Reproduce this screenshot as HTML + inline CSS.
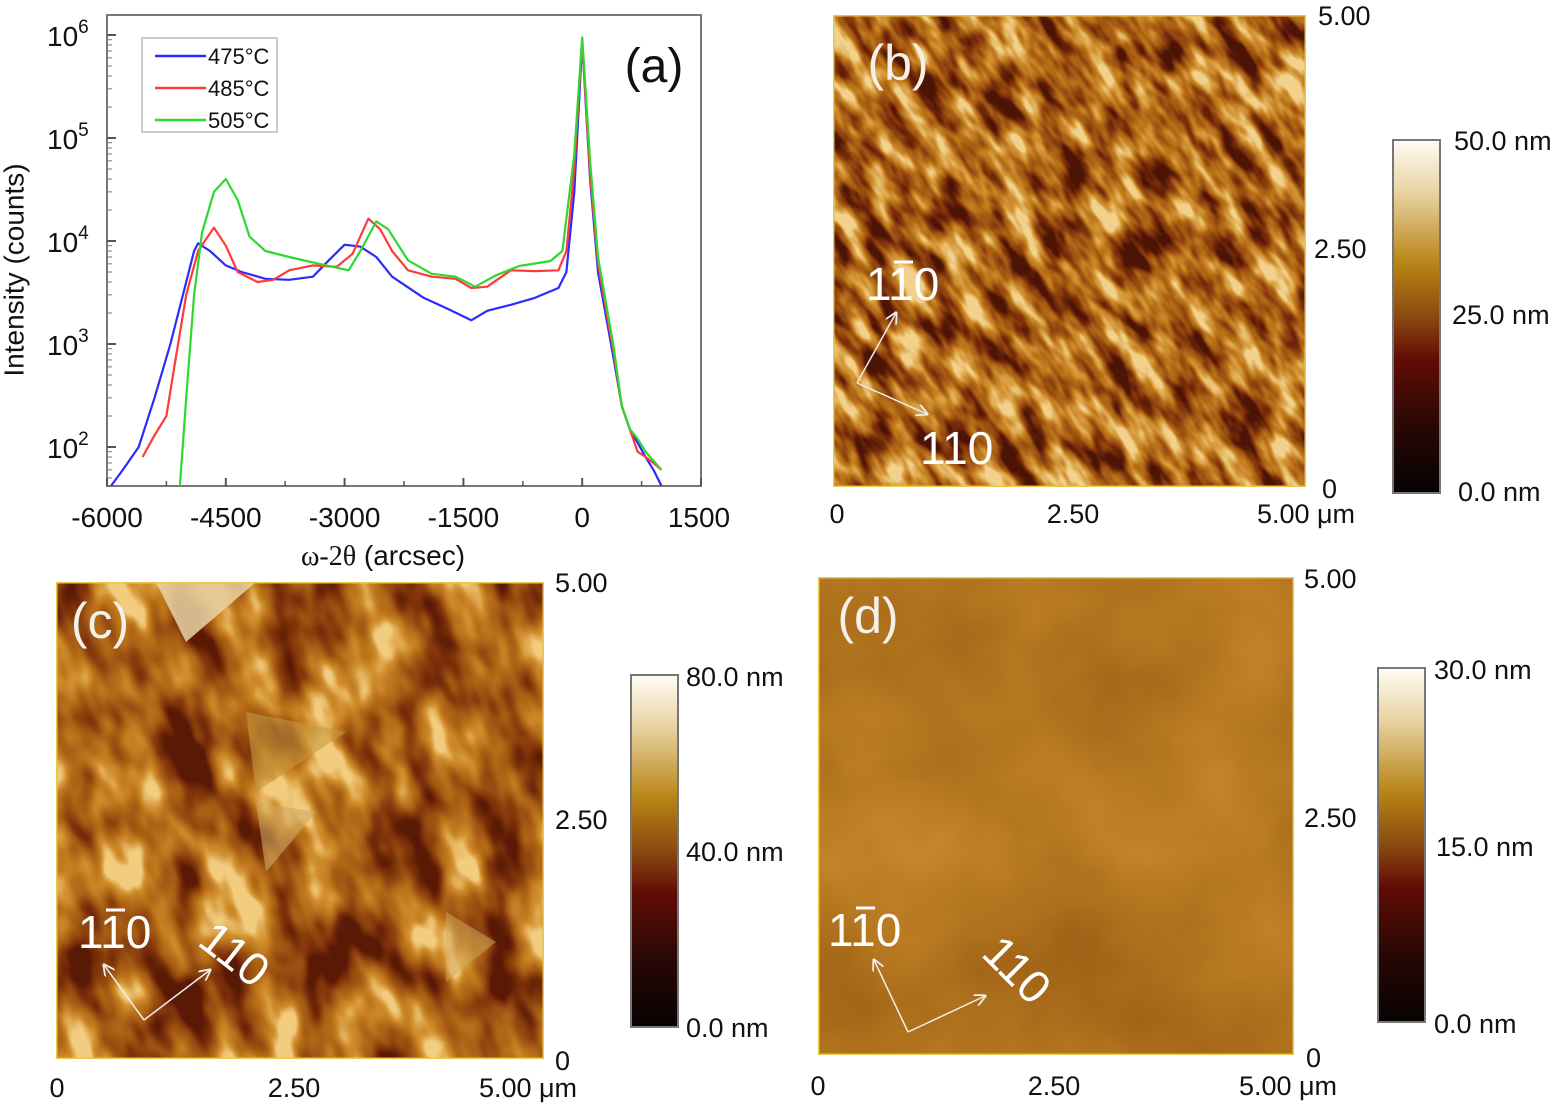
<!DOCTYPE html>
<html><head><meta charset="utf-8">
<style>
html,body{margin:0;padding:0;background:#fff;width:1558px;height:1107px;overflow:hidden;}
svg{display:block;font-family:"Liberation Sans",sans-serif;}
</style></head>
<body>
<svg id="fig" width="1558" height="1107" viewBox="0 0 1558 1107" xmlns="http://www.w3.org/2000/svg">
<defs>
  <linearGradient id="cbar" x1="0" y1="0" x2="0" y2="1">
    <stop offset="0" stop-color="#fffdf6"/>
    <stop offset="0.15" stop-color="#e8d2a0"/>
    <stop offset="0.35" stop-color="#b88416"/>
    <stop offset="0.5" stop-color="#8a4a10"/>
    <stop offset="0.62" stop-color="#620c06"/>
    <stop offset="0.8" stop-color="#2a0804"/>
    <stop offset="1" stop-color="#060303"/>
  </linearGradient>
  <filter id="afmB" x="0" y="0" width="1" height="1" color-interpolation-filters="sRGB">
    <feTurbulence type="fractalNoise" baseFrequency="0.05 0.02" numOctaves="3" seed="4"/>
    <feColorMatrix type="matrix" values="1 0 0 0 0 1 0 0 0 0 1 0 0 0 0 0 0 0 0 1"/>
    <feComponentTransfer>
      <feFuncR type="linear" slope="2.2" intercept="-0.6"/>
      <feFuncG type="linear" slope="2.2" intercept="-0.6"/>
      <feFuncB type="linear" slope="2.2" intercept="-0.6"/>
    </feComponentTransfer>
    <feComponentTransfer>
      <feFuncR type="table" tableValues="0.3 0.48 0.62 0.74 0.85 0.95"/>
      <feFuncG type="table" tableValues="0.08 0.18 0.33 0.46 0.62 0.82"/>
      <feFuncB type="table" tableValues="0.02 0.04 0.07 0.1 0.25 0.55"/>
    </feComponentTransfer>
  </filter>
  <filter id="afmC" x="0" y="0" width="1" height="1" color-interpolation-filters="sRGB">
    <feTurbulence type="fractalNoise" baseFrequency="0.022 0.012" numOctaves="3" seed="9"/>
    <feColorMatrix type="matrix" values="1 0 0 0 0 1 0 0 0 0 1 0 0 0 0 0 0 0 0 1"/>
    <feComponentTransfer>
      <feFuncR type="linear" slope="2.2" intercept="-0.6"/>
      <feFuncG type="linear" slope="2.2" intercept="-0.6"/>
      <feFuncB type="linear" slope="2.2" intercept="-0.6"/>
    </feComponentTransfer>
    <feComponentTransfer>
      <feFuncR type="table" tableValues="0.35 0.5 0.62 0.72 0.82 0.95"/>
      <feFuncG type="table" tableValues="0.1 0.2 0.33 0.44 0.56 0.8"/>
      <feFuncB type="table" tableValues="0.02 0.04 0.07 0.1 0.18 0.5"/>
    </feComponentTransfer>
  </filter>
  <filter id="afmD" x="0" y="0" width="1" height="1" color-interpolation-filters="sRGB">
    <feTurbulence type="fractalNoise" baseFrequency="0.006" numOctaves="4" seed="2"/>
    <feColorMatrix type="matrix" values="1 0 0 0 0 1 0 0 0 0 1 0 0 0 0 0 0 0 0 1"/>
    <feComponentTransfer>
      <feFuncR type="table" tableValues="0.6 0.65 0.7 0.75 0.8"/>
      <feFuncG type="table" tableValues="0.36 0.41 0.46 0.5 0.55"/>
      <feFuncB type="table" tableValues="0.08 0.1 0.12 0.15 0.2"/>
    </feComponentTransfer>
  </filter>
  <marker id="ah" markerWidth="8" markerHeight="8" refX="7" refY="4" orient="auto"><path d="M0,0 L8,4 L0,8" fill="none" stroke="#eee" stroke-width="1.2"/></marker>
</defs>

<!-- Panel (a) -->
<g id="panelA">
  <rect x="107" y="15" width="594" height="471" fill="#fff" stroke="#777" stroke-width="2"/>
  <g id="axes"></g>
  <g id="curves"></g>
  <text x="16" y="270" font-size="28" transform="rotate(-90 16 270)" text-anchor="middle" dominant-baseline="middle" fill="#111">Intensity (counts)</text>
  <text x="383" y="565" font-size="28" text-anchor="middle" fill="#111"><tspan font-family="Liberation Serif,serif">ω-2θ</tspan> (arcsec)</text>
  <text x="654" y="82" font-size="48" text-anchor="middle" fill="#111">(a)</text>
  <g>
    <rect x="142" y="38" width="135" height="94" fill="#fff" stroke="#bbb" stroke-width="1.5"/>
    <line x1="155" y1="56" x2="206" y2="56" stroke="#2b2bff" stroke-width="2.5"/>
    <text x="208" y="64" font-size="22" fill="#111">475°C</text>
    <line x1="155" y1="88" x2="206" y2="88" stroke="#ff3a3a" stroke-width="2.5"/>
    <text x="208" y="96" font-size="22" fill="#111">485°C</text>
    <line x1="155" y1="120" x2="206" y2="120" stroke="#2ed82e" stroke-width="2.5"/>
    <text x="208" y="128" font-size="22" fill="#111">505°C</text>
  </g>
</g>

<!-- Panel (b) -->
<g>
  <svg x="833" y="15" width="473" height="472" overflow="hidden">
    <rect x="-200" y="-200" width="900" height="900" filter="url(#afmB)" transform="rotate(-35 236 236)"/>
    <rect x="0" y="0" width="473" height="472" fill="none" stroke="#e8c84a" stroke-width="3"/>
  </svg>
  <text x="898" y="80" font-size="50" fill="#f4f0ea" text-anchor="middle">(b)</text>
  <text x="866" y="300" font-size="46" fill="#fff">110</text>
  <line x1="894" y1="262" x2="913" y2="262" stroke="#fff" stroke-width="3"/>
  <text x="920" y="464" font-size="46" fill="#fff">110</text>
  <line x1="857" y1="383" x2="896" y2="313" stroke="#eee" stroke-width="1.5" marker-end="url(#ah)"/>
  <line x1="857" y1="383" x2="927" y2="414" stroke="#eee" stroke-width="1.5" marker-end="url(#ah)"/>
  <g font-size="27" fill="#111">
    <text x="837" y="523" text-anchor="middle">0</text>
    <text x="1073" y="523" text-anchor="middle">2.50</text>
    <text x="1306" y="523" text-anchor="middle">5.00 μm</text>
    <text x="1318" y="25">5.00</text>
    <text x="1314" y="258">2.50</text>
    <text x="1322" y="498">0</text>
  </g>
  <rect x="1393" y="140" width="47" height="353" fill="url(#cbar)" stroke="#777" stroke-width="2"/>
  <g font-size="27" fill="#111">
    <text x="1454" y="150">50.0 nm</text>
    <text x="1452" y="324">25.0 nm</text>
    <text x="1458" y="501">0.0 nm</text>
  </g>
</g>

<!-- Panel (c) -->
<g>
  <svg x="56" y="582" width="488" height="477" overflow="hidden">
    <rect x="-100" y="-100" width="700" height="700" filter="url(#afmC)" transform="rotate(-20 244 238)"/>
    <path d="M100,0 L200,0 L130,60 Z" fill="#ead4a4" opacity="0.85"/>
    <path d="M190,130 L290,150 L200,210 Z" fill="#c49a40" opacity="0.6"/>
    <path d="M200,220 L260,230 L210,290 Z" fill="#d0a860" opacity="0.6"/>
    <path d="M390,330 L440,360 L390,400 Z" fill="#d0a860" opacity="0.5"/>
    <rect x="0" y="0" width="488" height="477" fill="none" stroke="#e8c84a" stroke-width="3"/>
  </svg>
  <text x="100" y="638" font-size="50" fill="#f4f0ea" text-anchor="middle">(c)</text>
  <text x="78" y="948" font-size="46" fill="#fff">110</text>
  <line x1="106" y1="910" x2="125" y2="910" stroke="#fff" stroke-width="3"/>
  <text x="196" y="944" font-size="46" fill="#fff" transform="rotate(38 196 944)">110</text>
  <line x1="144" y1="1020" x2="104" y2="965" stroke="#eee" stroke-width="1.5" marker-end="url(#ah)"/>
  <line x1="144" y1="1020" x2="210" y2="970" stroke="#eee" stroke-width="1.5" marker-end="url(#ah)"/>
  <g font-size="27" fill="#111">
    <text x="57" y="1097" text-anchor="middle">0</text>
    <text x="294" y="1097" text-anchor="middle">2.50</text>
    <text x="528" y="1097" text-anchor="middle">5.00 μm</text>
    <text x="555" y="592">5.00</text>
    <text x="555" y="829">2.50</text>
    <text x="555" y="1070">0</text>
  </g>
  <rect x="631" y="675" width="47" height="352" fill="url(#cbar)" stroke="#777" stroke-width="2"/>
  <g font-size="27" fill="#111">
    <text x="686" y="686">80.0 nm</text>
    <text x="686" y="861">40.0 nm</text>
    <text x="686" y="1037">0.0 nm</text>
  </g>
</g>

<!-- Panel (d) -->
<g>
  <svg x="818" y="577" width="476" height="478" overflow="hidden">
    <rect x="0" y="0" width="476" height="478" filter="url(#afmD)"/>
    <rect x="0" y="0" width="476" height="478" fill="none" stroke="#e8c84a" stroke-width="3"/>
  </svg>
  <text x="868" y="633" font-size="50" fill="#f4f0ea" text-anchor="middle">(d)</text>
  <text x="828" y="946" font-size="46" fill="#fff">110</text>
  <line x1="856" y1="908" x2="875" y2="908" stroke="#fff" stroke-width="3"/>
  <text x="980" y="955" font-size="46" fill="#fff" transform="rotate(45 980 955)">110</text>
  <line x1="908" y1="1032" x2="874" y2="960" stroke="#eee" stroke-width="1.5" marker-end="url(#ah)"/>
  <line x1="908" y1="1032" x2="985" y2="996" stroke="#eee" stroke-width="1.5" marker-end="url(#ah)"/>
  <g font-size="27" fill="#111">
    <text x="818" y="1095" text-anchor="middle">0</text>
    <text x="1054" y="1095" text-anchor="middle">2.50</text>
    <text x="1288" y="1095" text-anchor="middle">5.00 μm</text>
    <text x="1304" y="588">5.00</text>
    <text x="1304" y="827">2.50</text>
    <text x="1306" y="1067">0</text>
  </g>
  <rect x="1378" y="668" width="47" height="354" fill="url(#cbar)" stroke="#777" stroke-width="2"/>
  <g font-size="27" fill="#111">
    <text x="1434" y="679">30.0 nm</text>
    <text x="1436" y="856">15.0 nm</text>
    <text x="1434" y="1033">0.0 nm</text>
  </g>
</g>
</svg>

<script>
const xTicks = [-6000, -4500, -3000, -1500, 0, 1500];
const yDecades = [2, 3, 4, 5, 6];
const x475 = [-5950,-5800,-5600,-5400,-5200,-5000,-4900,-4850,-4700,-4500,-4300,-4000,-3700,-3400,-3200,-3000,-2800,-2600,-2400,-2000,-1700,-1400,-1200,-900,-600,-300,-200,-100,0,100,200,400,500,600,700,800,900,1000];
const y475 = [40,60,100,300,1000,4000,8000,9500,8000,5800,5000,4300,4200,4500,6500,9200,8800,7000,4500,2800,2200,1700,2100,2400,2800,3500,5000,30000,850000,40000,5000,700,250,150,110,80,60,42];
const x485 = [-5550,-5400,-5250,-5150,-5000,-4850,-4650,-4500,-4350,-4100,-3900,-3700,-3400,-3100,-2900,-2700,-2550,-2400,-2200,-1900,-1600,-1400,-1200,-900,-600,-300,-200,-100,0,100,200,400,500,600,700,800,900,1000];
const y485 = [80,130,200,600,3000,8000,13500,9000,5000,4000,4200,5200,5800,5600,7500,16500,13000,8000,5200,4500,4300,3500,3600,5200,5100,5200,8000,50000,900000,45000,6000,800,250,150,90,80,70,60];
const x505 = [-5080,-5000,-4900,-4800,-4650,-4500,-4350,-4200,-4000,-3700,-3400,-3100,-2950,-2800,-2600,-2450,-2200,-1900,-1600,-1350,-1100,-800,-400,-250,-100,0,100,200,400,500,600,700,800,1000];
const y505 = [40,300,3000,12000,30000,40000,25000,11000,8000,7000,6200,5500,5200,8000,15500,13000,6500,4800,4500,3600,4600,5700,6400,8000,70000,950000,60000,7000,900,250,150,120,90,60];

const X = v => 107 + (v + 6000) / 7500 * 594;
const Y = c => 447 - (Math.log10(c) - 2) * 103;
const NS = 'http://www.w3.org/2000/svg';
const axes = document.getElementById('axes');
const curves = document.getElementById('curves');
function mk(tag, attrs, parent){const e=document.createElementNS(NS,tag);for(const k in attrs)e.setAttribute(k,attrs[k]);parent.appendChild(e);return e;}

xTicks.forEach(t => {
  const g = mk('g', {}, axes);
  
  
  mk('line', {x1:X(t),x2:X(t),y1:486,y2:478,stroke:'#555','stroke-width':2}, g);
  const tx = mk('text', {x:X(t) + (t===1500?-2:0), y:527,'font-size':28,'text-anchor':'middle',fill:'#111'}, g);
  tx.textContent = t;
  if (t < 1500) mk('line', {x1:X(t+750),x2:X(t+750),y1:486,y2:481,stroke:'#555','stroke-width':1.5}, g);
});
yDecades.forEach(d => {
  const g = mk('g', {}, axes);
  
  
  mk('line', {x1:107,x2:116,y1:Y(Math.pow(10,d)),y2:Y(Math.pow(10,d)),stroke:'#555','stroke-width':2}, g);
  for (let m = 2; m < 10; m++) {
    const c = m * Math.pow(10, d - 1);
    if (Y(c) < 486 && Y(c) > 15) mk('line', {x1:107,x2:112,y1:Y(c),y2:Y(c),stroke:'#777','stroke-width':1}, g);
  }
  const tx = mk('text', {x:47, y:Y(Math.pow(10,d))+11,'font-size':28,fill:'#111'}, g);
  tx.innerHTML = '10<tspan dy="-13" font-size="19">' + d + '</tspan>';
});

function draw(xs, ys, color, name) {
  const pts = xs.map((x, i) => X(x).toFixed(1) + ',' + Math.min(486, Y(ys[i])).toFixed(1)).join(' ');
  const p = mk('polyline', {points: pts, fill:'none', stroke: color, 'stroke-width': 2.2, 'stroke-linejoin':'round'}, curves);
  
  
}
draw(x475, y475, '#2b2bff', 'series-475c');
draw(x485, y485, '#ff3a3a', 'series-485c');
draw(x505, y505, '#2ed82e', 'series-505c');
</script>
</body></html>
